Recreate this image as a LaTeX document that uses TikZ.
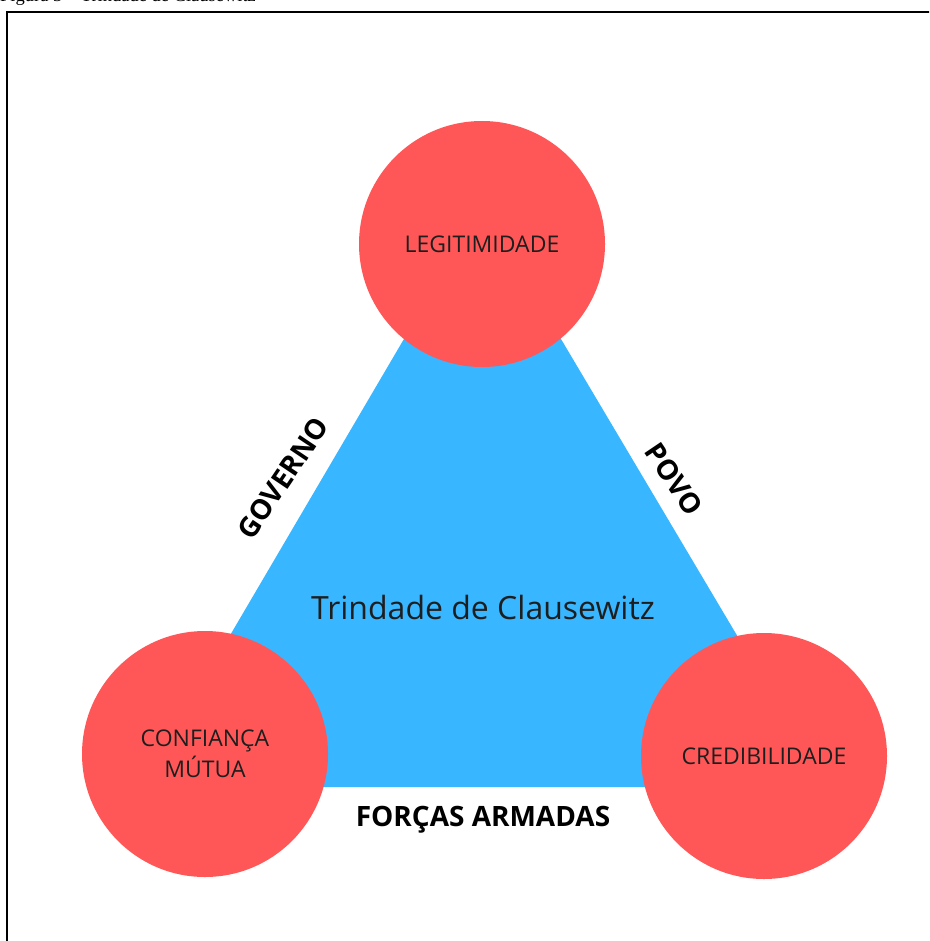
\documentclass[tikz,border=0pt]{standalone}
\usepackage{fontspec}
\setmainfont{Open Sans}
\newfontfamily\capfont{Liberation Serif}
\definecolor{redc}{HTML}{FF5757}
\definecolor{bluec}{HTML}{38B6FF}
\definecolor{txt}{HTML}{1E1E1E}
\begin{document}
\begin{tikzpicture}[x=1pt,y=-1pt,
  circ/.style={circle,fill=redc,minimum size=246pt,inner sep=0pt,text=txt,
    font=\fontsize{23}{31}\selectfont,align=center},
  side/.style={font=\bfseries\fontsize{28}{32}\selectfont,text=black,inner sep=0pt}]
\useasboundingbox (0,0) rectangle (929,941);
\clip (0,0) rectangle (929,941);
\node[anchor=base west,font=\capfont\fontsize{18.5}{20}\selectfont,inner sep=0pt] (cap) at (0,2) {Figura 3 – Trindade de Clausewitz};
\draw[line width=1.5pt] (7,945) -- (7,12) -- (935,12);
\coordinate (A) at (482,206);
\coordinate (B) at (141,787);
\coordinate (C) at (827,787);
\fill[bluec] (A) -- (B) -- (C) -- cycle;
\node[circ] (leg) at (482,244) {LEGITIMIDADE};
\node[circ] (conf) at (205,754) {CONFIANÇA\\MÚTUA};
\node[circ] (cred) at (764,756) {CREDIBILIDADE};
\node[font=\fontsize{32}{36}\selectfont,text=txt,inner sep=0pt] (trin) at (483,607) {Trindade de Clausewitz};
\node[side,rotate=56] (gov) at (283,478) {GOVERNO};
\node[side,rotate=-56] (povo) at (674,479) {POVO};
\node[side] (fa) at (483,820) {FORÇAS ARMADAS};
\end{tikzpicture}
\end{document}
